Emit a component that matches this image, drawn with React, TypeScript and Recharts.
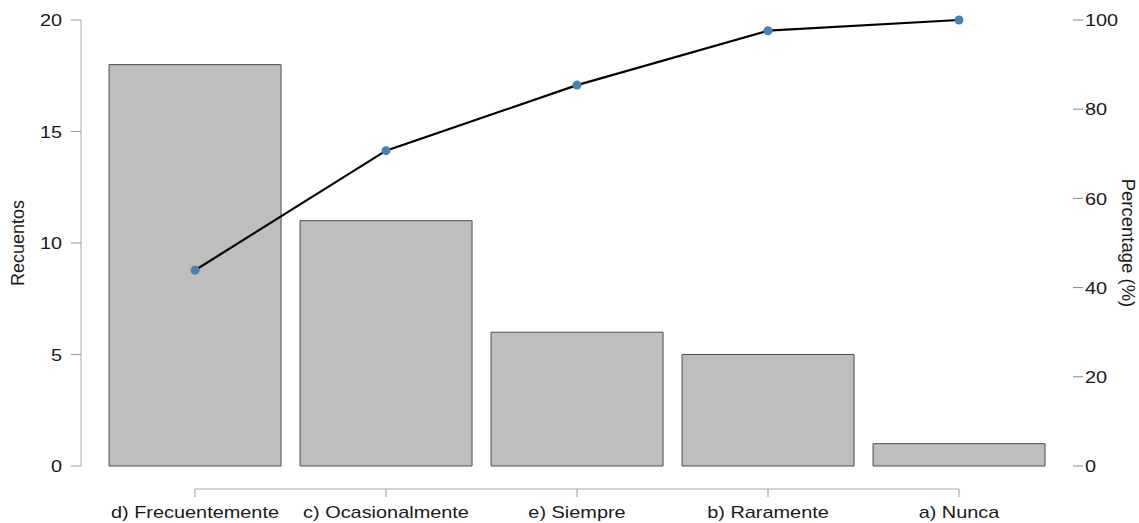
import React from "react";
import {
  ComposedChart,
  Bar,
  Line,
  XAxis,
  YAxis,
  Label,
  ReferenceLine,
} from "recharts";

const categories = [
  "d) Frecuentemente",
  "c) Ocasionalmente",
  "e) Siempre",
  "b) Raramente",
  "a) Nunca",
];
const counts = [18, 11, 6, 5, 1];
const cumulativePct = [43.9, 70.7, 85.4, 97.6, 100];
const countTicks = [0, 5, 10, 15, 20];
const pctTicks = [0, 20, 40, 60, 80, 100];

const data = categories.map((name, i) => ({
  name,
  count: counts[i],
  pct: cumulativePct[i],
}));

const FONT = "'Liberation Sans', Arial, sans-serif";
const STRETCH = 1.17;

function LeftTick(props: any) {
  const { x, y, payload } = props;
  return (
    <text
      transform={`translate(${x},${y}) scale(${STRETCH},1)`}
      textAnchor="end"
      dy="0.36em"
      fontFamily={FONT}
      fontSize={17}
      fill="#1a1a1a"
    >
      {payload.value}
    </text>
  );
}

function RightTick(props: any) {
  const { x, y, payload } = props;
  return (
    <text
      transform={`translate(${x},${y}) scale(${STRETCH},1)`}
      textAnchor="start"
      dy="0.36em"
      fontFamily={FONT}
      fontSize={17}
      fill="#1a1a1a"
    >
      {payload.value}
    </text>
  );
}

function BottomTick(props: any) {
  const { x, y, payload } = props;
  return (
    <g>
      <line x1={x} x2={x} y1={y + 23} y2={y + 31} stroke="#999" />
      <text
        transform={`translate(${x},${y + 52}) scale(${STRETCH},1)`}
        textAnchor="middle"
        fontFamily={FONT}
        fontSize={17}
        fill="#1a1a1a"
      >
        {payload.value}
      </text>
    </g>
  );
}

export default function App() {
  return (
    <div style={{ position: "absolute", left: 0, top: 0, background: "#fff" }}>
      <ComposedChart
        width={1139}
        height={523}
        data={data}
        margin={{ top: 20, right: 0, bottom: 0, left: 0 }}
        barCategoryGap="5%"
      >
        <XAxis
          dataKey="name"
          height={57}
          padding={{ left: 18.5, right: 18.5 }}
          axisLine={false}
          tickLine={false}
          tickSize={0}
          tickMargin={0}
          tick={<BottomTick />}
          interval={0}
        />
        <YAxis
          yAxisId="left"
          orientation="left"
          width={81}
          domain={[0, 20]}
          ticks={countTicks}
          axisLine={{ stroke: "#aaa" }}
          tickLine={{ stroke: "#999" }}
          tickSize={10}
          tickMargin={9}
          tick={<LeftTick />}
        >
          <Label
            content={(p: any) => {
              const vb = p.viewBox || { x: 0, y: 20, width: 81, height: 446 };
              return (
                <text
                  transform={`translate(18,${vb.y + vb.height / 2}) rotate(-90)`}
                  textAnchor="middle"
                  dominantBaseline="central"
                  fontFamily={FONT}
                  fontSize={18}
                  fill="#1a1a1a"
                >
                  Recuentos
                </text>
              );
            }}
          />
        </YAxis>
        <YAxis
          yAxisId="right"
          orientation="right"
          width={66}
          domain={[0, 100]}
          ticks={pctTicks}
          axisLine={false}
          tickLine={{ stroke: "#888" }}
          tickSize={10}
          tickMargin={2}
          tick={<RightTick />}
        >
          <Label
            content={(p: any) => {
              const vb = p.viewBox || { x: 1073, y: 20, width: 66, height: 446 };
              return (
                <text
                  transform={`translate(1128,${vb.y + vb.height / 2}) rotate(90)`}
                  textAnchor="middle"
                  dominantBaseline="central"
                  fontFamily={FONT}
                  fontSize={18.5}
                  fill="#1a1a1a"
                >
                  Percentage (%)
                </text>
              );
            }}
          />
        </YAxis>
        <ReferenceLine
          yAxisId="left"
          segment={[
            { x: categories[0], y: -1.03 },
            { x: categories[categories.length - 1], y: -1.03 },
          ]}
          stroke="#aaa"
          ifOverflow="visible"
        />
        <Bar
          yAxisId="left"
          dataKey="count"
          fill="#bebebe"
          stroke="#4d4d4d"
          strokeWidth={1}
          isAnimationActive={false}
        />
        <Line
          yAxisId="right"
          dataKey="pct"
          type="linear"
          stroke="#000"
          strokeWidth={2.2}
          dot={{ r: 4.5, fill: "#4682b4", stroke: "none" }}
          activeDot={false}
          isAnimationActive={false}
        />
      </ComposedChart>
    </div>
  );
}
